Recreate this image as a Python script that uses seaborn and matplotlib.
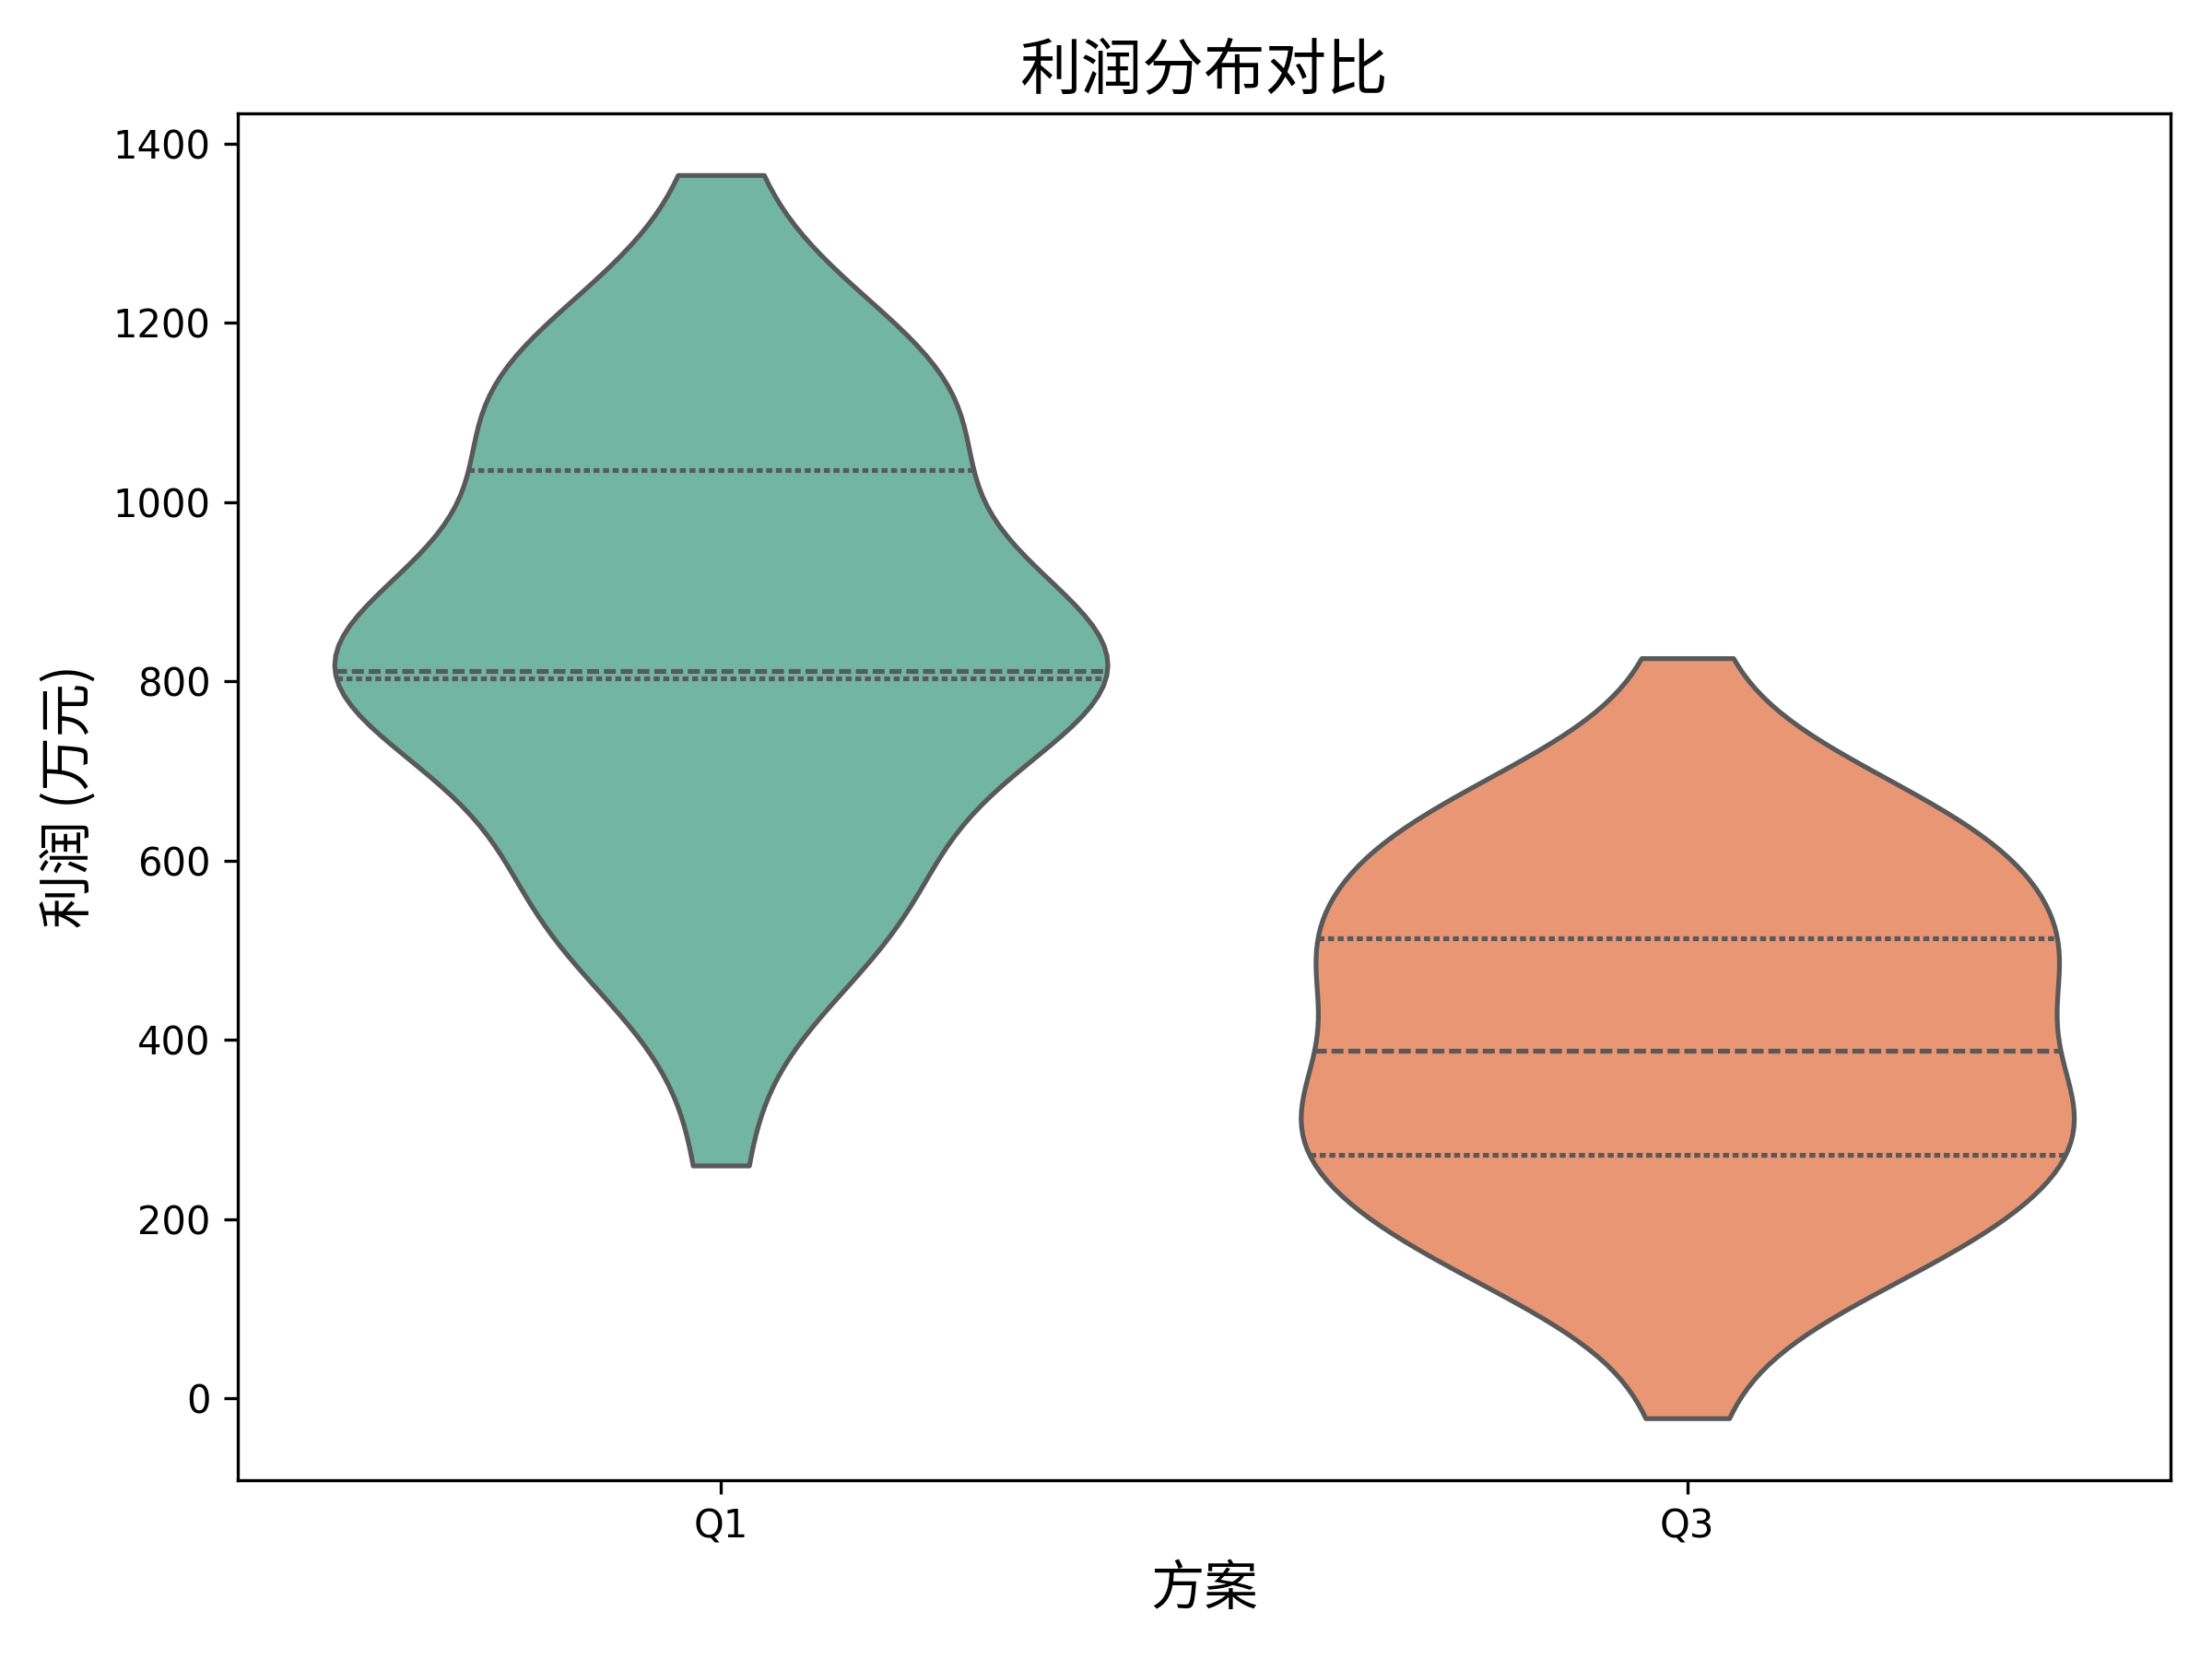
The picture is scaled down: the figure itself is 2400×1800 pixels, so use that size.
import matplotlib
matplotlib.use("Agg")
import matplotlib.pyplot as plt
import seaborn as sns
import pandas as pd

categories = ["Q1", "Q3"]
q1_values = [260, 494, 518, 523, 532, 535, 578, 611, 628, 637,
             803, 803, 803, 803, 803, 803, 803, 803, 803, 803,
             812, 812, 812, 812, 812, 857, 941, 950, 957, 988,
             1036, 1060, 1127, 1134, 1141, 1143, 1143, 1144, 1144, 1146, 1365]
q3_values = [-22, 168, 168, 170, 170, 170, 174, 179, 272, 272,
             272, 273, 281, 304, 320, 324, 343, 346, 351, 351,
             388, 447, 447, 465, 489, 496, 512, 512, 512, 513,
             513, 521, 636, 636, 637, 637, 637, 637, 638, 638, 826]

df = pd.DataFrame({
    "方案": ["Q1"] * len(q1_values) + ["Q3"] * len(q3_values),
    "利润": q1_values + q3_values,
})

plt.rcParams['font.family'] = ['Noto Sans CJK SC', 'DejaVu Sans']

fig, ax = plt.subplots(figsize=(8, 6), dpi=300)
sns.violinplot(data=df, x="方案", y="利润", hue="方案", order=categories,
               palette="Set2", inner="quart", cut=0, density_norm="width",
               legend=False, ax=ax)
ax.set_title("利润分布对比", fontsize=16)
ax.set_xlabel("方案", fontsize=14)
ax.set_ylabel("利润 (万元)", fontsize=14)
for lab in ax.get_xticklabels() + ax.get_yticklabels():
    lab.set_fontfamily("DejaVu Sans")
fig.tight_layout()
fig.savefig("out.png", dpi=300)
